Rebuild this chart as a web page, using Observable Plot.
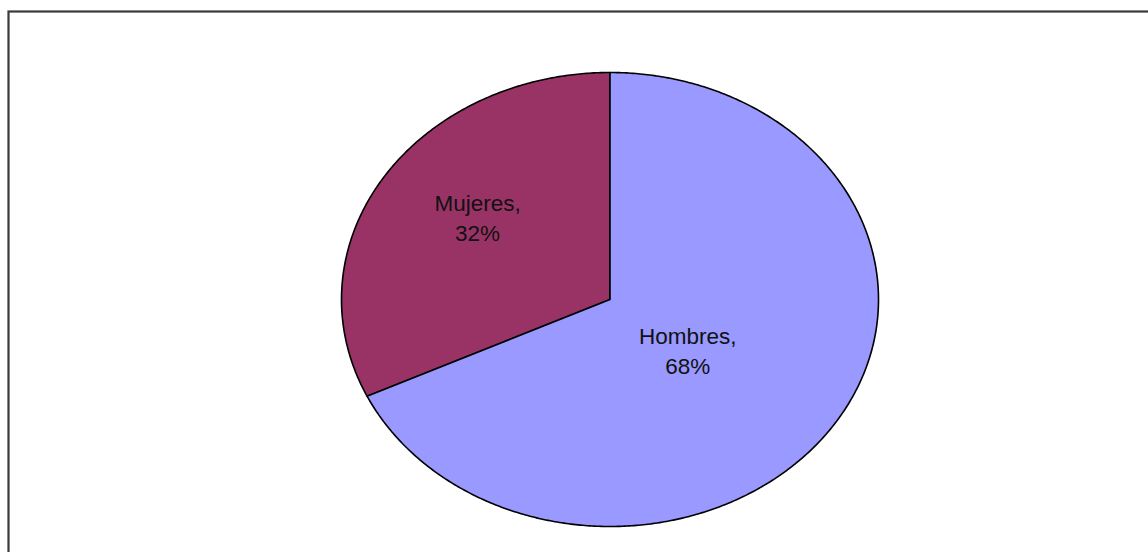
<!DOCTYPE html>
<html>
<head>
<meta charset="utf-8">
<script src="https://cdn.jsdelivr.net/npm/d3@7"></script>
<script src="https://cdn.jsdelivr.net/npm/@observablehq/plot@0.6"></script>
<style>
  html, body { margin: 0; padding: 0; background: #fff; overflow: hidden; }
  svg { display: block; }
</style>
</head>
<body>
<div id="chart"></div>
<script>
// Data
const categories = ["Mujeres", "Hombres"];
const percents = [32, 68];
const colors = ["#993366", "#9999FF"];

// Build slice polygons (angle measured counter-clockwise from 12 o'clock)
const total = d3.sum(percents);
let start = 0;
const slices = categories.map((name, i) => {
  const a0 = start;
  const a1 = start + percents[i] / total * 2 * Math.PI;
  start = a1;
  const pts = [{x: 0, y: 0}];
  const n = Math.max(2, Math.ceil((a1 - a0) / (Math.PI / 360)));
  for (let k = 0; k <= n; k++) {
    const a = a0 + (a1 - a0) * k / n;
    pts.push({x: -Math.sin(a), y: Math.cos(a)});
  }
  pts.push({x: 0, y: 0});
  return {name, pct: percents[i], color: colors[i], a0, a1, pts};
});

const labelRadius = {Mujeres: 0.615, Hombres: 0.364};
const labelAngleShift = {Mujeres: -0.075, Hombres: -0.084};
const labels = slices.map(s => {
  const m = (s.a0 + s.a1) / 2 + labelAngleShift[s.name];
  const r = labelRadius[s.name];
  return {x: -Math.sin(m) * r, y: Math.cos(m) * r, text: `${s.name},\n${s.pct}%`};
});

const chart = Plot.plot({
  width: 1148,
  height: 552,
  marginLeft: 8,
  marginTop: 11,
  marginRight: 0,
  marginBottom: 0,
  x: {domain: [-1, 1], range: [341, 878], axis: null},
  y: {domain: [-1, 1], range: [526, 72], axis: null},
  style: {background: "#fff"},
  marks: [
    Plot.frame({stroke: "#3a3a3a", strokeWidth: 2.2, insetRight: -10, insetBottom: -10}),
    ...slices.map(s => Plot.line(s.pts, {
      x: "x", y: "y", fill: s.color, stroke: "#000", strokeWidth: 1.6,
      curve: "linear", strokeLinejoin: "round"
    })),
    Plot.text(labels, {
      x: "x", y: "y", text: "text",
      fontFamily: "Liberation Sans, Arial, sans-serif",
      fontSize: 22.5, lineHeight: 1.33, fill: "#111",
      textAnchor: "middle", letterSpacing: "1.2px"
    })
  ]
});
document.getElementById("chart").appendChild(chart);
</script>
</body>
</html>
